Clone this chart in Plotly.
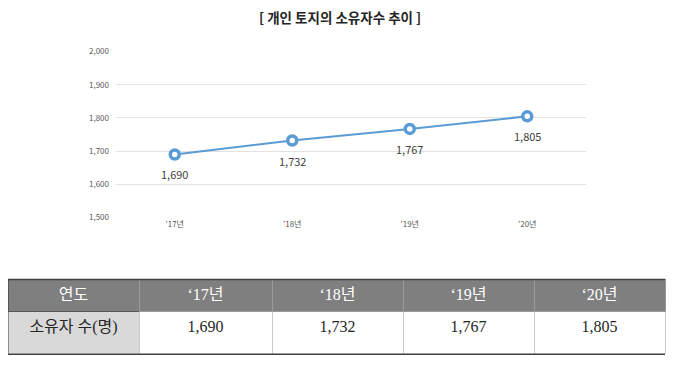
import plotly.graph_objects as go

years = ["'17년", "'18년", "'19년", "'20년"]
owners = [1690, 1732, 1767, 1805]
table_years = ["\u201817년", "\u201818년", "\u201819년", "\u201820년"]
y_ticks = [1500, 1600, 1700, 1800, 1900, 2000]
title_text = "[ 개인 토지의 소유자수 추이 ]"
row_header = "연도"
row_label = "소유자 수(명)"

W, H = 680, 370
def px(x): return x / W
def py(y): return 1 - y / H

fig = go.Figure()
fig.add_trace(go.Scatter(
    x=years, y=owners, mode="lines+markers",
    line=dict(color="#5b9bd5", width=2),
    marker=dict(size=9, color="white", line=dict(color="#5b9bd5", width=3.5)),
    showlegend=False, hoverinfo="x+y",
))

value_labels = [dict(x=yr, y=v, xref="x", yref="y", text=f"{v:,}", showarrow=False,
                     yshift=-20, font=dict(family="Noto Sans CJK KR", size=11, color="#404040"))
                for yr, v in zip(years, owners)]

fig.add_trace(go.Table(
    domain=dict(x=[px(8), px(665)], y=[py(359), py(282)]),
    columnwidth=[131, 133, 131, 131, 131],
    header=dict(
        values=[row_header] + table_years,
        fill_color="#7f7f7f",
        line=dict(color=["#555555"] + ["#9a9a9a"] * 4, width=1),
        font=dict(family="Liberation Serif, Noto Sans CJK KR", size=16, color="white"),
        align="center", height=32,
    ),
    cells=dict(
        values=[[row_label]] + [[f"{v:,}"] for v in owners],
        fill_color=[["#d9d9d9"]] + [["white"]] * 4,
        line=dict(color=["#8c8c8c"] + ["#c8c8c8"] * 4, width=1),
        font=dict(family="Liberation Serif, Noto Sans CJK KR", size=16, color="#262626"),
        align="center", height=45,
    ),
))

fig.update_layout(
    width=W, height=H,
    margin=dict(l=0, r=0, t=0, b=0),
    paper_bgcolor="white", plot_bgcolor="white",
    xaxis=dict(domain=[px(116), px(586)], showgrid=False, zeroline=False, showline=False,
               tickfont=dict(family="Noto Sans CJK KR", size=8, color="#595959"),
               ticks="", range=[-0.5, 3.5]),
    yaxis=dict(domain=[py(218), py(47)], range=[1500, 2000], tickvals=y_ticks,
               ticktext=[f"{v:,}" for v in y_ticks],
               showgrid=True, gridcolor="#e3e3e3", gridwidth=1, zeroline=False,
               tickfont=dict(family="Noto Sans CJK KR", size=8, color="#595959"),
               ticks="", ticklabelstandoff=6),
    annotations=[dict(
        text=f"<b>{title_text}</b>", x=0.5, y=py(11), xref="paper", yref="paper",
        xanchor="center", yanchor="middle",
        showarrow=False, font=dict(family="Noto Sans CJK KR", size=13.5, color="#262626"),
    )] + value_labels,
    shapes=[
        dict(type="line", xref="paper", yref="paper", x0=px(8), x1=px(665), y0=py(282), y1=py(282),
             line=dict(color="#404040", width=1.5)),
        dict(type="line", xref="paper", yref="paper", x0=px(8), x1=px(665), y0=py(359), y1=py(359),
             line=dict(color="#404040", width=1.5)),
    ],
)

fig.write_html("out.html", config={"displayModeBar": False},
               post_script="document.body.style.margin='0';document.body.style.overflow='hidden';")
